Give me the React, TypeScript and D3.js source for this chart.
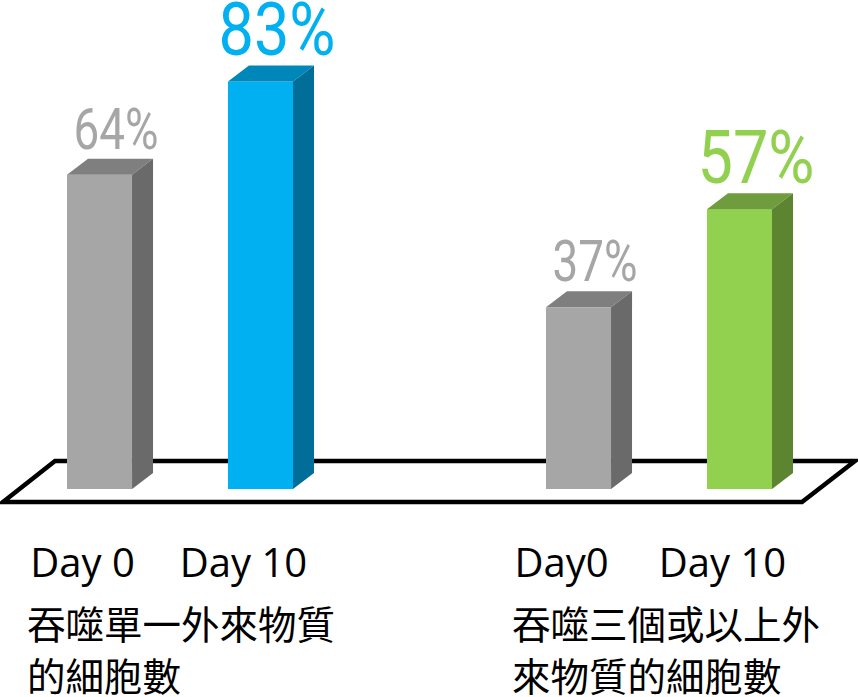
import React from "react";
import * as d3 from "d3";

const groups = ["single", "multi"];
const days = ["Day 0", "Day 10"];
const dayLabels = [
  ["Day 0", "Day 10"],
  ["Day0", "Day 10"],
];
const values = [
  [64, 83],
  [37, 57],
];
const valueLabels = [
  ["64%", "83%"],
  ["37%", "57%"],
];
const groupTitles = [
  ["吞噬單一外來物質", "的細胞數"],
  ["吞噬三個或以上外", "來物質的細胞數"],
];

const W = 858;
const H = 697;
const BASE = 489;
const DX = 21;
const DY = 16;

const palette = [
  [
    { front: "#a6a6a6", top: "#7f7f7f", side: "#6a6a6a", label: "#a6a6a6" },
    { front: "#00b0f0", top: "#0087b9", side: "#006e99", label: "#00b0f0" },
  ],
  [
    { front: "#a6a6a6", top: "#7f7f7f", side: "#6a6a6a", label: "#a6a6a6" },
    { front: "#92d050", top: "#6f9c3d", side: "#5d8531", label: "#92d050" },
  ],
];

export default function App() {
  const xGroup = d3.scaleBand<string>().domain(groups).range([67, 67 + 958]);
  const xInner = d3
    .scaleBand<string>()
    .domain(days)
    .range([0, 226])
    .paddingInner(0.596)
    .paddingOuter(0);
  const y = d3.scaleLinear().domain([0, 100]).range([BASE, -2]);
  const bw = xInner.bandwidth();

  const floorTop = BASE - 28;
  const floorBot = BASE + 13;
  const floor = [
    [55, floorTop],
    [855, floorTop],
    [802, floorBot],
    [3, floorBot],
  ];
  const line = d3.line();

  return (
    <svg
      width={W}
      height={H}
      style={{ position: "absolute", left: 0, top: 0, display: "block", background: "#fff" }}
    >
      <path
        d={line(floor as [number, number][]) + "Z"}
        fill="#fff"
        stroke="#000"
        strokeWidth={4.5}
        strokeLinejoin="miter"
      />
      {groups.map((g, gi) => {
        const gx = xGroup(g)!;
        return (
          <g key={g}>
            {days.map((d, di) => {
              const v = values[gi][di];
              const x = gx + xInner(d)!;
              const yt = y(v);
              const c = palette[gi][di];
              const big = di === 1;
              return (
                <g key={d}>
                  <rect x={x} y={yt} width={bw} height={BASE - yt} fill={c.front} />
                  <polygon
                    points={`${x},${yt} ${x + DX},${yt - DY} ${x + bw + DX},${yt - DY} ${x + bw},${yt}`}
                    fill={c.top}
                  />
                  <polygon
                    points={`${x + bw},${yt} ${x + bw + DX},${yt - DY} ${x + bw + DX},${BASE - DY} ${x + bw},${BASE}`}
                    fill={c.side}
                  />
                  <text
                    x={x + (bw + DX) / 2 + 6}
                    y={yt - DY - 10}
                    textAnchor="middle"
                    fill={c.label}
                    fontFamily="Roboto, 'Liberation Sans', sans-serif"
                    fontWeight={400}
                    fontSize={big ? 74 : 58}
                    textLength={big ? 117 : 85}
                    lengthAdjust="spacingAndGlyphs"
                  >
                    {valueLabels[gi][di]}
                  </text>
                  <text
                    x={x + bw / 2 - 17}
                    y={577}
                    textAnchor="middle"
                    fill="#000"
                    fontFamily="'Open Sans', 'Noto Sans', sans-serif"
                    fontSize={40}
                  >
                    {dayLabels[gi][di]}
                  </text>
                </g>
              );
            })}
            {groupTitles[gi].map((t, li) => (
              <text
                key={li}
                x={gx - (gi === 0 ? 40 : 34)}
                y={639 + li * 52}
                fill="#000"
                fontFamily="'Noto Sans CJK TC', 'Noto Sans CJK SC', sans-serif"
                fontSize={38.5}
              >
                {t}
              </text>
            ))}
          </g>
        );
      })}
    </svg>
  );
}
